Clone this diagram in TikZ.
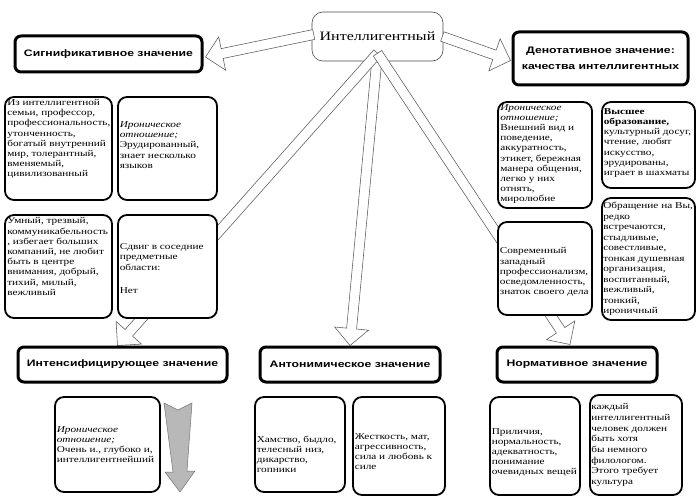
\documentclass[tikz,border=0pt]{standalone}
\usepackage{fontspec}
\setmainfont{Liberation Serif}[FakeStretch=1.25]
\newfontfamily\hdfont{Liberation Sans}[FakeStretch=1.3]
\usetikzlibrary{calc}
\pgfdeclarelayer{back}
\pgfsetlayers{back,main}
\newcommand\blkarrow[2]{%
  \coordinate (bh) at ($(#2)!17pt!(#1)$);
  \draw[barrow] ($(#1)!5pt!90:(#2)$) -- ($(bh)!5pt!-90:(#1)$) -- ($(bh)!17pt!-90:(#1)$) -- (#2)
    -- ($(bh)!17pt!90:(#1)$) -- ($(bh)!5pt!90:(#1)$) -- ($(#1)!5pt!-90:(#2)$) -- cycle;}
\begin{document}
\begin{tikzpicture}[x=1pt,y=-1pt,
  cbox/.style={draw=black, line width=1.8pt, rounded corners=9pt, fill=white, inner sep=0pt},
  hbox/.style={draw=black, line width=3pt, rounded corners=6pt, fill=white, inner sep=0pt,
    font=\hdfont\bfseries\fontsize{9.4}{16}\selectfont, align=center},
  txt/.style={inner sep=0pt, align=left, anchor=west, font=\fontsize{9}{10.2}\selectfont},
  ttxt/.style={txt, anchor=north west},
  cnode/.style={draw=black!70, line width=0.6pt, rounded corners=11pt, fill=white, inner sep=0pt,
    font=\fontsize{12.8}{14}\selectfont},
  barrow/.style={draw=black!65, line width=0.55pt, fill=white, line join=miter},
  garrow/.style={draw=black!55, line width=0.5pt, fill=black!28, line join=miter}]
\useasboundingbox (0,0) rectangle (700,500);

% header boxes
\node[hbox, minimum width=187pt, minimum height=36pt] (sig) at (108.5,54) {Сигнификативное значение};
\node[hbox, minimum width=175pt, minimum height=53pt] (den) at (600.5,58.5) {Денотативное значение:\\качества интеллигентных};
\node[hbox, minimum width=209pt, minimum height=35pt] (int) at (122.5,364.5) {Интенсифицирующее значение};
\node[hbox, minimum width=180pt, minimum height=35pt] (ant) at (350,364.5) {Антонимическое значение};
\node[hbox, minimum width=160pt, minimum height=35pt] (norm) at (577,364.5) {Нормативное значение};

% content boxes
\node[cbox, minimum width=107pt, minimum height=103pt] (a) at (58.5,148.5) {};
\node[ttxt] (ta) at ([shift={(3,3)}]a.north west) {Из интеллигентной\\семьи, профессор,\\профессиональность,\\утонченность,\\богатый внутренний\\мир, толерантный,\\вменяемый,\\цивилизованный};
\node[cbox, minimum width=99pt, minimum height=103pt] (b) at (167.5,148.5) {};
\node[txt] (tb) at ([shift={(2.5,-3.5)}]b.west) {\textit{Ироническое}\\\textit{отношение;}\\Эрудированный,\\знает несколько\\языков};
\node[cbox, minimum width=107pt, minimum height=103pt] (c) at (58.5,266.5) {};
\node[ttxt] (tc) at ([shift={(3,3.5)}]c.north west) {Умный, трезвый,\\коммуникабельность\\, избегает больших\\компаний, не любит\\быть в центре\\внимания, добрый,\\тихий, милый,\\вежливый};
\node[cbox, minimum width=99pt, minimum height=103pt] (d) at (167.5,266.5) {};
\node[txt] (td) at ([shift={(2.5,2)}]d.west) {Сдвиг в соседние\\предметные\\области:\\[13pt]Нет};

\node[cbox, minimum width=94pt, minimum height=106pt] (e) at (545,155) {};
\node[ttxt] (te) at ([shift={(3,3)}]e.north west) {\textit{Ироническое}\\\textit{отношение;}\\Внешний вид и\\поведение,\\аккуратность,\\этикет, бережная\\манера общения,\\легко у них\\отнять,\\миролюбие};
\node[cbox, minimum width=93pt, minimum height=86pt] (f) at (648.5,145) {};
\node[txt] (tf) at ([shift={(2.5,-2)}]f.west) {\textbf{Высшее}\\\textbf{образование,}\\культурный досуг,\\чтение, любят\\искусство,\\эрудированы,\\играет в шахматы};
\node[cbox, minimum width=94pt, minimum height=93pt] (g) at (545,268.5) {};
\node[txt] (tg) at ([shift={(2.5,3.5)}]g.west) {Современный\\западный\\профессионализм,\\осведомленность,\\знаток своего дела};
\node[cbox, minimum width=93pt, minimum height=122pt] (h) at (648.5,259) {};
\node[txt, font=\fontsize{9}{10.5}\selectfont] (th) at ([shift={(2,0)}]h.west) {Обращение на Вы,\\редко\\встречаются,\\стыдливые,\\совестливые,\\тонкая душевная\\организация,\\воспитанный,\\вежливый,\\тонкий,\\ироничный};

\node[cbox, minimum width=105pt, minimum height=95pt] (i) at (107.5,444.5) {};
\node[txt] (ti) at ([shift={(2.5,0)}]i.west) {\textit{Ироническое}\\\textit{отношение;}\\Очень и., глубоко и,\\интеллигентнейший};
\node[cbox, minimum width=90pt, minimum height=95pt] (j) at (300,444.5) {};
\node[txt] (tj) at ([shift={(2.5,10)}]j.west) {Хамство, быдло,\\телесный низ,\\дикарство,\\гопники};
\node[cbox, minimum width=92pt, minimum height=98pt] (k) at (399,446) {};
\node[txt] (tk) at ([shift={(2.5,5.5)}]k.west) {Жесткость, мат,\\агрессивность,\\сила и любовь к\\силе};
\node[cbox, minimum width=90pt, minimum height=98pt] (l) at (535,446) {};
\node[txt] (tl) at ([shift={(2.5,6.5)}]l.west) {Приличия,\\нормальность,\\адекватность,\\понимание\\очевидных вещей};
\node[cbox, minimum width=92pt, minimum height=100pt] (m) at (636,445) {};
\node[txt, font=\fontsize{9}{10.7}\selectfont] (tm) at ([shift={(2,0)}]m.west) {каждый\\интеллигентный\\человек должен\\быть хотя\\бы немного\\филологом.\\Этого требует\\культура};

% gray decorative arrow
\draw[garrow] (164,403) -- (178,410) -- (192,403) -- (187,471) -- (195,471) -- (180,492)
  -- (165,472) -- (173,472) -- cycle;

\begin{pgfonlayer}{back}
\node[cnode, minimum width=131pt, minimum height=49pt] (ctr) at (377.5,36.5) {Интеллигентный};
\coordinate (s0) at ($(ctr.south)+(0,-8)$);
\coordinate (sL) at ($(ctr.west)+(2,-2)$);
\coordinate (eL) at ($(sig.east)+(2,3)$);
\coordinate (sR) at ($(ctr.east)+(-1,0)$);
\coordinate (eR) at ($(den.west)+(-1,2)$);
\coordinate (eD) at (ant.north);
\coordinate (eDL) at ($(int.north)+(-5,0)$);
\coordinate (eDR) at ($(norm.north)+(-7,-1)$);
\blkarrow{s0}{eD}
\blkarrow{s0}{eDL}
\blkarrow{s0}{eDR}
\blkarrow{sL}{eL}
\blkarrow{sR}{eR}
\end{pgfonlayer}
\end{tikzpicture}
\end{document}
